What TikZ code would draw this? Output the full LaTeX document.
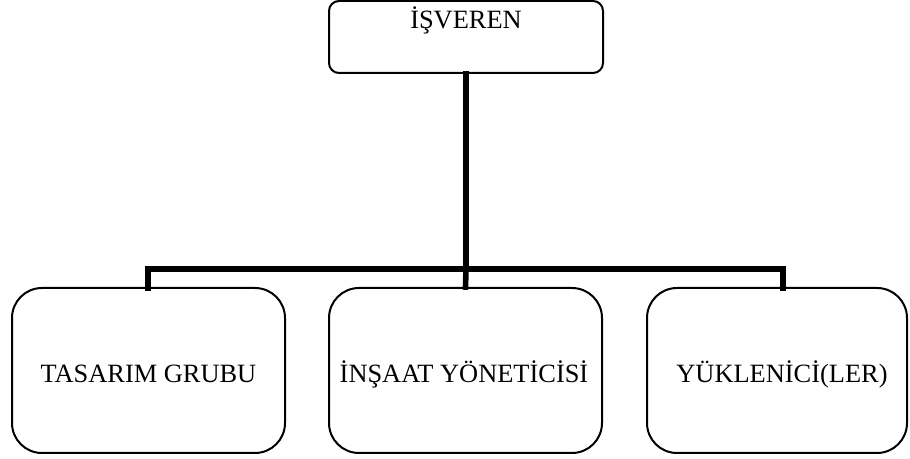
\documentclass[tikz,border=0pt]{standalone}
\usepackage{fontspec}
\setmainfont{Liberation Serif}
\begin{document}
\begin{tikzpicture}[x=0.5pt,y=-0.5pt,
  box/.style={draw=black,line width=1pt,rounded corners=15pt,inner sep=0pt},
  topbox/.style={draw=black,line width=1pt,rounded corners=5pt,inner sep=0pt},
  lbl/.style={font=\fontsize{13.2pt}{15pt}\selectfont,inner sep=0pt,anchor=base},
  conn/.style={line width=2.8pt,line cap=rect}]
\useasboundingbox (0,0) rectangle (910,459);
% top box
\node[topbox,minimum width=137pt,minimum height=36pt] (isv) at (466,37) {};
\node[lbl] (isvt) at (466,29) {İŞVEREN};
% bottom boxes
\node[box,minimum width=136.5pt,minimum height=82.5pt] (tg) at (148.5,370.5) {};
\node[box,minimum width=136.5pt,minimum height=82.5pt] (iy) at (465.5,370.5) {};
\node[box,minimum width=130pt,minimum height=82.5pt] (yk) at (777,370.5) {};
\node[lbl] (tgt) at (148.5,383) {TASARIM GRUBU};
\node[lbl] (iyt) at (464,383) {İNŞAAT YÖNETİCİSİ};
\node[lbl] (ykt) at (782,383) {YÜKLENİCİ(LER)};
% connectors
\coordinate (jn) at (466,269);
\coordinate (rd) at (783,288);
\coordinate (ld) at (148,288);
\draw[conn] (isv.south) -- (jn);
\draw[conn] (ld) |- (jn) -| (rd);
\draw[conn] (jn) -- (iy.north);
\end{tikzpicture}
\end{document}
